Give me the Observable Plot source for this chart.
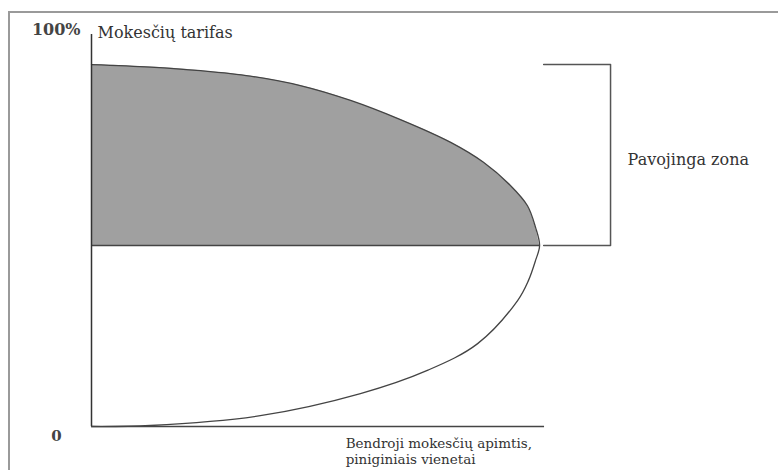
<!DOCTYPE html>
<html>
<head>
<meta charset="utf-8">
<script src="https://cdn.jsdelivr.net/npm/d3@7"></script>
<script src="https://cdn.jsdelivr.net/npm/@observablehq/plot@0.6"></script>
<style>
  html, body { margin: 0; padding: 0; background: #fff; }
  #wrap { position: relative; width: 778px; height: 470px; overflow: hidden; }
  #frame { position: absolute; left: 8px; top: 11px; right: -10px; bottom: -10px;
           border-top: 2px solid #9a9a9a; border-left: 2px solid #9a9a9a; }
  #chart { position: absolute; left: 0; top: 0; }
  #chart svg text.wide { letter-spacing: 0.7px; }
</style>
</head>
<body>
<div id="wrap"><div id="frame"></div><div id="chart"></div></div>
<script>
// Laffer curve: tax rate (t, %) -> total tax revenue (r, 100 ≈ maximum)
const rate    = [0, 0.28, 3.0, 9.1, 15.5, 22.9, 34.8, 40.3, 45.9, 50,
                 55.0, 61.0, 66.6, 73.0, 78.5, 84.8, 90.1, 94.2, 96.8, 98.3, 99.3, 100];
const revenue = [0, 13.1, 37.6, 59.9, 74.8, 86.0, 94.9, 97.3, 98.9, 99.8,
                 98.9, 97.1, 93.3, 87.3, 80.0, 68.8, 57.7, 46.5, 35.4, 24.3, 13.1, 0];
const dangerZone     = [50, 100];     // tax rate range of the "dangerous zone"
const axisTopRate    = 108.3;
const axisEndRevenue = 100.9;

const curve = rate.map((t, i) => ({t, r: revenue[i]}));
const upper = curve.filter(d => d.t >= dangerZone[0]);
const peakRevenue = d3.max(revenue);

const bracketX1 = 100.7, bracketX2 = 115.6;
const bracket = [
  {r: bracketX1, t: dangerZone[1]},
  {r: bracketX2, t: dangerZone[1]},
  {r: bracketX2, t: dangerZone[0]},
  {r: bracketX1, t: dangerZone[0]}
];

const font = "DejaVu Serif";
const ink = "#333";

const plot = Plot.plot({
  width: 778,
  height: 470,
  marginLeft: 91,
  marginRight: 238,
  marginTop: 34,
  marginBottom: 44,
  x: {domain: [0, 100], axis: null},
  y: {domain: [0, axisTopRate], axis: null},
  style: {fontFamily: font, background: "transparent"},
  marks: [
    Plot.areaX(upper, {y: "t", x1: 0, x2: "r", fill: "#a0a0a0", curve: "catmull-rom"}),
    Plot.ruleY([dangerZone[0]], {x1: 0, x2: peakRevenue, stroke: "#444", strokeWidth: 1.6}),
    Plot.line(curve, {x: "r", y: "t", stroke: "#444", strokeWidth: 1.3, curve: "catmull-rom"}),
    Plot.line(bracket, {x: "r", y: "t", stroke: "#555", strokeWidth: 1.5}),
    Plot.ruleX([0], {y1: 0, y2: axisTopRate, stroke: "#333", strokeWidth: 1.5}),
    Plot.ruleY([0], {x1: 0, x2: axisEndRevenue, stroke: "#444", strokeWidth: 1.6}),
    Plot.text(["100%"], {x: -2.45, y: 109.7, text: d => d, textAnchor: "end", fontSize: 16, fontWeight: "bold", fill: "#444"}),
    Plot.text(["0"], {x: -7.8, y: -2.76, text: d => d, fontSize: 15, fontWeight: "bold", fill: "#444"}),
    Plot.text(["Mokesčių tarifas"], {x: 1.34, y: 108.8, text: d => d, textAnchor: "start", fontSize: 16, fill: ink, className: "wide"}),
    Plot.text(["Bendroji mokesčių apimtis,\npiniginiais vienetai"], {x: 56.6, y: -2.5, text: d => d, textAnchor: "start", lineAnchor: "top", lineHeight: 1.25, fontSize: 13.5, fill: ink}),
    Plot.text(["Pavojinga zona"], {x: 119.4, y: 73.8, text: d => d, textAnchor: "start", fontSize: 16, fill: ink, className: "wide"})
  ]
});
document.getElementById("chart").appendChild(plot);
</script>
</body>
</html>
